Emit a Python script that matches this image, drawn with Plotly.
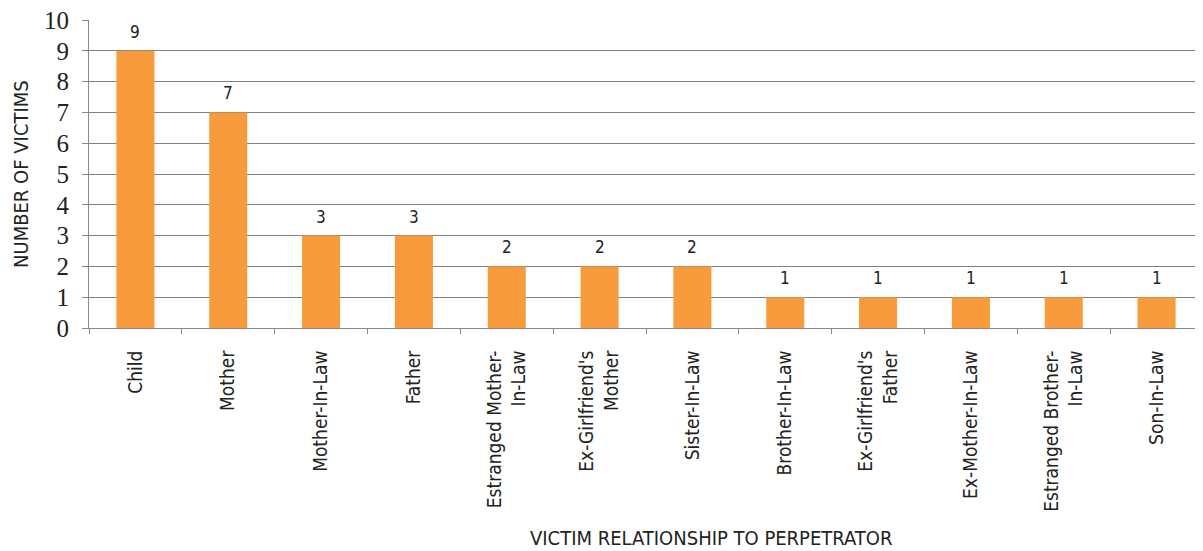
import plotly.graph_objects as go

categories = ["Child", "Mother", "Mother-In-Law", "Father", "Estranged Mother-<br>In-Law",
              "Ex-Girlfriend's<br>Mother", "Sister-In-Law", "Brother-In-Law",
              "Ex-Girlfriend's<br>Father", "Ex-Mother-In-Law", "Estranged Brother-<br>In-Law", "Son-In-Law"]
victims = [9, 7, 3, 3, 2, 2, 2, 1, 1, 1, 1, 1]
y_ticks = list(range(0, 11))

cond = "Liberation Sans Narrow, DejaVu Sans Condensed, Roboto Condensed, Arial Narrow, sans-serif"

fig = go.Figure(go.Bar(
    x=categories, y=victims,
    marker=dict(color="#F89B3C", line=dict(width=0)),
    cliponaxis=False,
))

for c, v in zip(categories, victims):
    fig.add_annotation(x=c, y=v, text=str(v), showarrow=False, yanchor="bottom", yshift=7,
                       font=dict(family=cond, size=17, color="#222"))

fig.add_annotation(xref="paper", yref="paper", x=0, y=0.5, xshift=-68, text="NUMBER OF VICTIMS",
                   textangle=-90, showarrow=False, xanchor="center", yanchor="middle",
                   font=dict(family=cond, size=20, color="#222"))
fig.add_annotation(xref="paper", yref="paper", x=0.5587, y=0, yshift=-210,
                   text="VICTIM RELATIONSHIP TO PERPETRATOR",
                   showarrow=False, xanchor="center", yanchor="middle",
                   font=dict(family=cond, size=20, color="#222"))

fig.update_layout(
    width=1195, height=543,
    margin=dict(l=81, r=0, t=12, b=223, autoexpand=False),
    plot_bgcolor="white", paper_bgcolor="white",
    bargap=0.59, showlegend=False,
    xaxis=dict(
        type="category", tickangle=-90, tickson="boundaries", automargin=False,
        ticks="outside", ticklen=5, tickcolor="#888", ticklabelstandoff=14,
        showline=True, linecolor="#888", linewidth=1,
        tickfont=dict(family=cond, size=19, color="#222"),
    ),
    yaxis=dict(
        range=[0, 10], tickvals=y_ticks, showgrid=True, gridcolor="#808080", gridwidth=1,
        automargin=False, ticklabeloverflow="allow",
        ticks="outside", ticklen=6, tickcolor="#888", ticklabelstandoff=8,
        showline=True, linecolor="#888", linewidth=1, zeroline=False,
        tickfont=dict(family="Liberation Serif, Times New Roman, serif", size=25, color="#222"),
    ),
)

fig.write_html("out.html")
